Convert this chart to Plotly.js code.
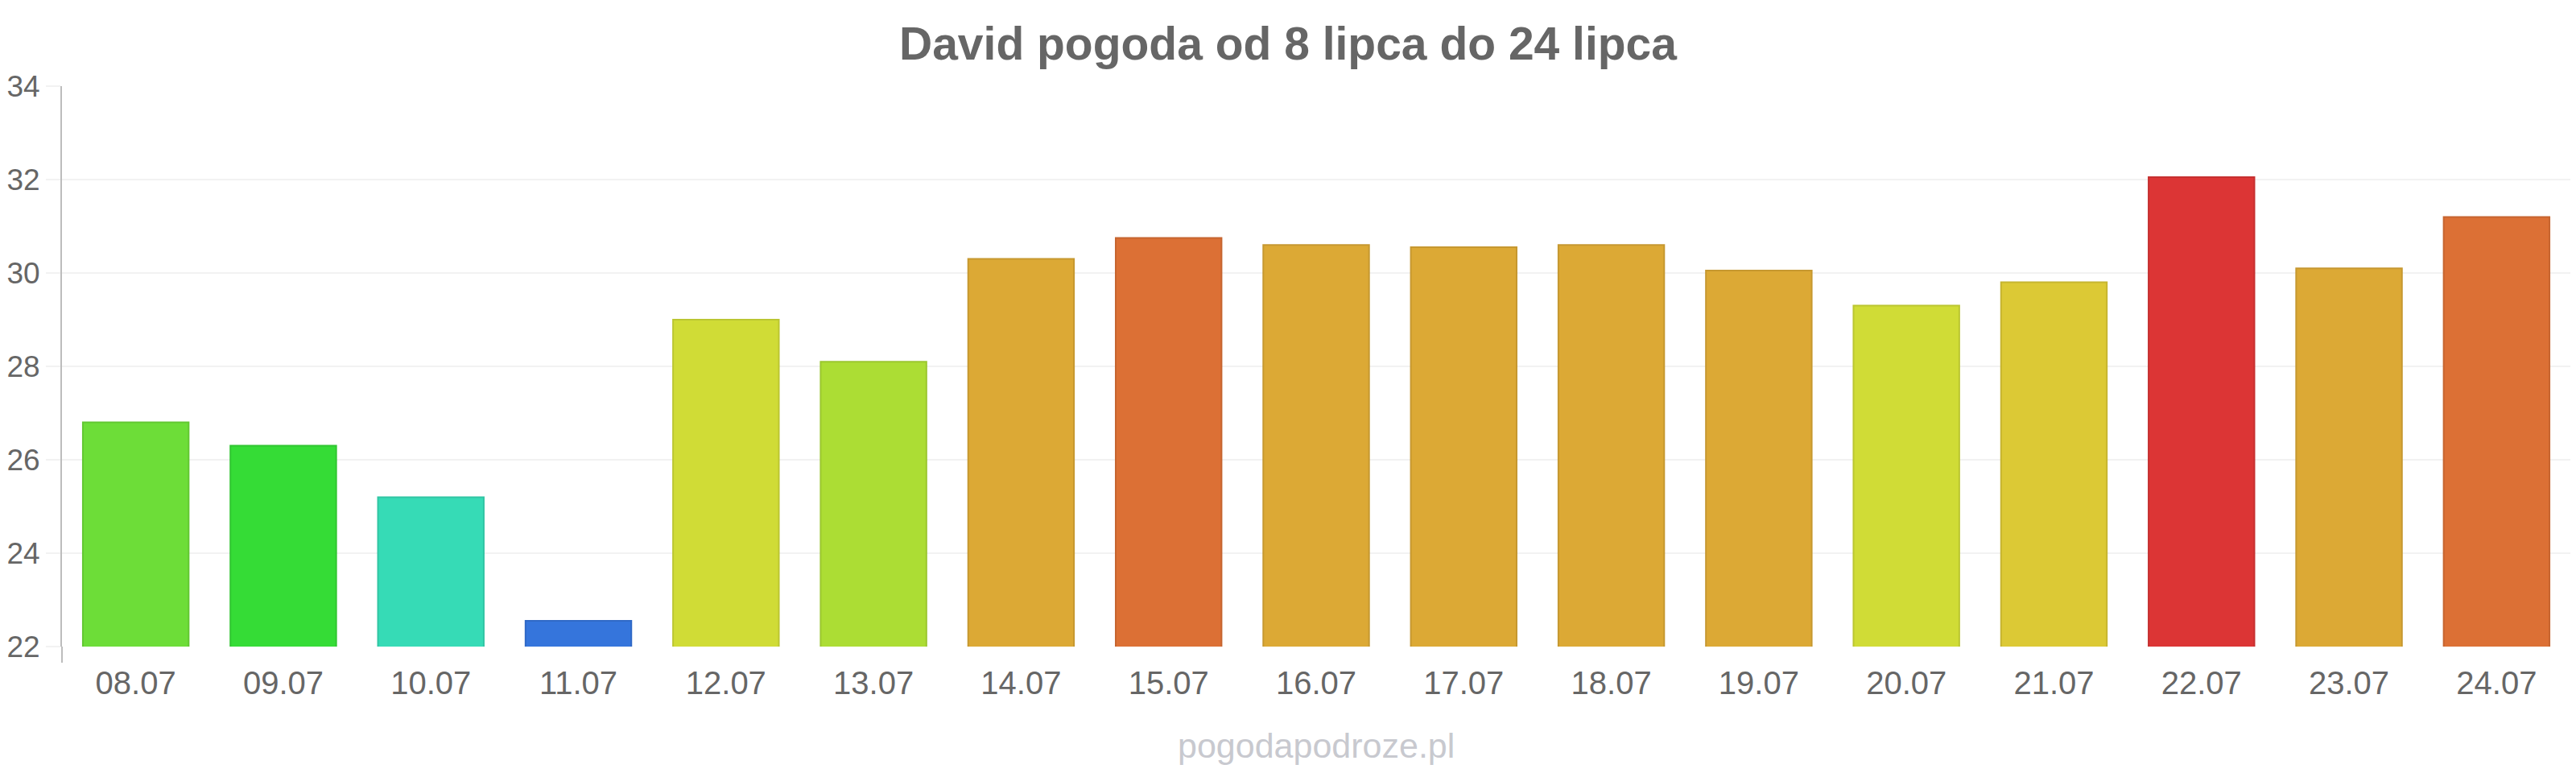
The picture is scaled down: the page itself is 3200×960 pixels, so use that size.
<!DOCTYPE html>
<html>
<head>
<meta charset="utf-8">
<script src="https://cdn.plot.ly/plotly-3.0.1.min.js"></script>
<style>
  html, body { margin: 0; padding: 0; background: #ffffff; }
  #chart { width: 3200px; height: 960px; }
</style>
</head>
<body>
<div id="chart"></div>
<script>
// ---- data ----
const dates = ['08.07', '09.07', '10.07', '11.07', '12.07', '13.07', '14.07', '15.07', '16.07',
               '17.07', '18.07', '19.07', '20.07', '21.07', '22.07', '23.07', '24.07'];
const temps = [26.8, 26.3, 25.2, 22.55, 29.0, 28.1, 30.3, 30.75, 30.6,
               30.55, 30.6, 30.05, 29.3, 29.8, 32.05, 30.1, 31.2];
const barColors = ['#6ddd38', '#35dc36', '#36dbb6', '#3575dc', '#d0dc36', '#acdd34', '#dca935', '#dc7035', '#dca935',
                   '#dca935', '#dca935', '#dca935', '#d0dc36', '#dcc935', '#dc3535', '#dca935', '#dc7035'];
const yTicks = [22, 24, 26, 28, 30, 32, 34];
const titleText = 'David pogoda od 8 lipca do 24 lipca';
const watermark = 'pogodapodroze.pl';

function darken(hex, f) {
  const n = parseInt(hex.slice(1), 16);
  const r = Math.round(((n >> 16) & 255) * f);
  const g = Math.round(((n >> 8) & 255) * f);
  const b = Math.round((n & 255) * f);
  return 'rgb(' + r + ',' + g + ',' + b + ')';
}

const trace = {
  type: 'bar',
  x: dates,
  y: temps,
  marker: {
    color: barColors,
    line: { color: barColors.map(c => darken(c, 0.9)), width: 2 }
  },
  hoverinfo: 'x+y'
};

const plotH = 960 - 107 - 157;

const layout = {
  width: 3200,
  height: 960,
  paper_bgcolor: '#ffffff',
  plot_bgcolor: '#ffffff',
  margin: { l: 77, r: 7, t: 107, b: 157, pad: 0 },
  bargap: 0.283,
  showlegend: false,
  font: { family: '"Liberation Sans", Arial, sans-serif', color: '#666666' },
  title: {
    text: '<b>' + titleText + '</b>',
    font: { family: '"Liberation Sans", Arial, sans-serif', size: 57, color: '#666666' },
    x: 0.5, xref: 'container', xanchor: 'center',
    y: 1 - 54 / 960, yref: 'container', yanchor: 'middle'
  },
  xaxis: {
    type: 'category',
    showgrid: false,
    showline: false,
    zeroline: false,
    ticks: 'outside',
    ticklen: 10,
    tickcolor: 'rgba(0,0,0,0)',
    tickfont: { size: 40, color: '#666666' },
    fixedrange: true
  },
  yaxis: {
    range: [22, 34],
    tickvals: yTicks,
    ticktext: yTicks.map(String),
    showgrid: true,
    gridcolor: '#f2f2f2',
    gridwidth: 2,
    zeroline: false,
    showline: true,
    linecolor: '#bdbdbd',
    linewidth: 2,
    ticks: 'outside',
    ticklen: 18,
    tickwidth: 2,
    tickcolor: '#f2f2f2',
    tickfont: { size: 37, color: '#666666' },
    fixedrange: true
  },
  shapes: [{
    type: 'line', xref: 'paper', yref: 'paper',
    x0: 0, x1: 0, y0: 0, y1: -20 / plotH,
    line: { color: '#bdbdbd', width: 2 }
  }],
  annotations: [{
    text: watermark,
    xref: 'paper', yref: 'paper',
    x: 0.5, xanchor: 'center',
    y: -(926 - 803) / plotH, yanchor: 'middle',
    showarrow: false,
    font: { family: '"Liberation Sans", Arial, sans-serif', size: 43, color: '#c8c9cf' }
  }]
};

Plotly.newPlot('chart', [trace], layout, { displayModeBar: false, staticPlot: true });
</script>
</body>
</html>
